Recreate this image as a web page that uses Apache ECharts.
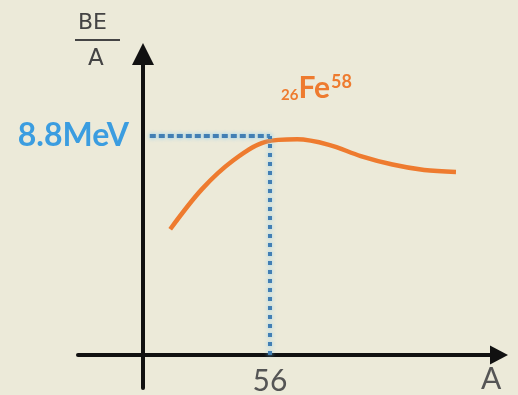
<!DOCTYPE html>
<html>
<head>
<meta charset="utf-8">
<script src="https://cdn.jsdelivr.net/npm/echarts@6/dist/echarts.min.js"></script>
<style>
  html, body { margin: 0; padding: 0; background: #ecead9; }
  #chart { width: 518px; height: 395px; }
</style>
</head>
<body>
<div id="chart"></div>
<script>
// mass number A and binding energy per nucleon (MeV)
var massNumbers = [12, 26, 40, 54, 68, 82, 96, 110, 124, 138];
var bindingPerNucleon = [5.05, 6.66, 7.83, 8.56, 8.66, 8.44, 7.99, 7.65, 7.43, 7.35];
var peakA = 56;
var peakBE = 8.8;
var xTicks = [56];
var yTicks = [8.8];

var curve = massNumbers.map(function (a, i) { return [a, bindingPerNucleon[i]]; });

var chart = echarts.init(document.getElementById('chart'));

var dotBase = { color: '#427fb4', width: 4, shadowColor: 'rgba(120,200,245,0.9)', shadowBlur: 4 };

// axes cross at A=0, BE/A=0 inside the grid; shift them in with a negative offset
chart.setOption({
    backgroundColor: '#ecead9',
    animation: false,
    grid: { left: 78, right: 19, top: 54, bottom: 7, outerBoundsMode: 'none' },
    xAxis: {
        type: 'value',
        min: -28.66,
        max: 156.97,
        offset: -33,
        axisLine: {
            onZero: false,
            symbol: ['none', 'triangle'],
            symbolSize: [19, 18],
            lineStyle: { color: '#111', width: 4 }
        },
        axisTick: { show: false },
        splitLine: { show: false },
        axisLabel: {
            customValues: xTicks,
            margin: 11,
            color: '#555',
            fontSize: 30,
            fontFamily: 'Lato'
        }
    },
    yAxis: {
        type: 'value',
        min: -1.33,
        max: 12.09,
        offset: -65,
        axisLine: {
            onZero: false,
            symbol: ['none', 'triangle'],
            symbolSize: [22, 22],
            lineStyle: { color: '#111', width: 4 }
        },
        axisTick: { show: false },
        splitLine: { show: false },
        axisLabel: {
            customValues: yTicks,
            margin: 14,
            color: '#3b9de0',
            fontSize: 32,
            fontWeight: 'bold',
            fontFamily: 'Lato',
            formatter: function (v) { return v.toFixed(1) + 'MeV'; }
        }
    },
    series: [{
        type: 'line',
        data: curve,
        smooth: 0.33,
        showSymbol: false,
        lineStyle: { color: '#ee7b2f', width: 4.5 },
        z: 3,
        markLine: {
            silent: true,
            symbol: 'none',
            label: { show: false },
            data: [
                [{ coord: [3, peakBE], lineStyle: Object.assign({ type: [6, 3] }, dotBase) }, { coord: [peakA, peakBE] }],
                [{ coord: [peakA, 0], lineStyle: Object.assign({ type: [4, 5] }, dotBase) }, { coord: [peakA, peakBE] }]
            ]
        }
    }],
    graphic: [
        // BE / A fraction
        { type: 'text', left: 78, top: 12, style: { text: 'BE', font: '22px "DejaVu Sans"', fill: '#444' } },
        { type: 'rect', shape: { x: 75, y: 39, width: 45, height: 2 }, style: { fill: '#444' } },
        { type: 'text', left: 88, top: 48, style: { text: 'A', font: '23px "DejaVu Sans"', fill: '#444' } },
        // x axis name
        { type: 'text', left: 481, top: 364, style: { text: 'A', font: '30px Lato', fill: '#555' } },
        // 26Fe58
        {
            type: 'text', left: 281, top: 73,
            style: {
                text: '{s|26}{b|Fe}{p|58}',
                rich: {
                    s: { fontSize: 15, fontWeight: 'bold', fill: '#ee7b2f', fontFamily: 'Lato', verticalAlign: 'bottom', padding: [13, 0, 0, 0] },
                    b: { fontSize: 30, fontWeight: 'bold', fill: '#ee7b2f', fontFamily: 'Lato' },
                    p: { fontSize: 18, fontWeight: 'bold', fill: '#ee7b2f', fontFamily: 'Lato', verticalAlign: 'top', padding: [0, 0, 12, 1] }
                }
            }
        }
    ]
});
</script>
</body>
</html>
